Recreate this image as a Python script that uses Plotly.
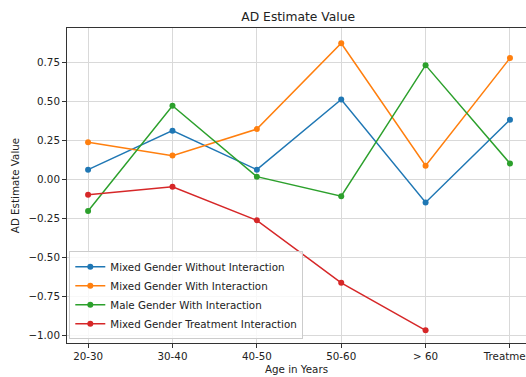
import plotly.graph_objects as go

categories = ["20-30", "30-40", "40-50", "50-60", "> 60", "Treatment"]
mixed_without = [0.06, 0.31, 0.06, 0.51, -0.15, 0.38]
mixed_with = [0.235, 0.15, 0.32, 0.87, 0.085, 0.775]
male_with = [-0.205, 0.47, 0.015, -0.11, 0.73, 0.10]
mixed_treat = [-0.10, -0.05, -0.265, -0.665, -0.97]

series = [
    ("Mixed Gender Without Interaction", mixed_without, "#1f77b4"),
    ("Mixed Gender With Interaction", mixed_with, "#ff7f0e"),
    ("Male Gender With Interaction", male_with, "#2ca02c"),
    ("Mixed Gender Treatment Interaction", mixed_treat, "#d62728"),
]

fig = go.Figure()
for name, vals, col in series:
    fig.add_trace(go.Scatter(
        x=categories[:len(vals)], y=vals, name=name, mode="lines+markers",
        line=dict(color=col, width=1.5), marker=dict(color=col, size=6),
    ))

font = "DejaVu Sans, sans-serif"
fig.update_layout(
    width=526, height=377,
    margin=dict(l=67, r=0, t=28, b=34, autoexpand=False),
    paper_bgcolor="white", plot_bgcolor="white",
    font=dict(family=font, size=10.3, color="#222"),
    title=dict(text="AD Estimate Value", x=0.567, xanchor="center", y=0.955, yanchor="middle",
               font=dict(size=12.3, color="#222")),
    showlegend=True,
    legend=dict(x=0.005, y=0.012, xanchor="left", yanchor="bottom",
                bgcolor="rgba(255,255,255,0.8)", bordercolor="#cccccc", borderwidth=1,
                font=dict(size=10.3), tracegroupgap=0),
)
fig.update_xaxes(
    type="category", categoryorder="array", categoryarray=categories,
    range=[-0.25, 5.19], automargin=False,
    showgrid=True, gridcolor="#d9d9d9", gridwidth=1,
    showline=True, linecolor="#333", linewidth=1, mirror=True,
    ticks="outside", ticklen=4, tickcolor="#333",
    title=dict(text="Age in Years", standoff=4, font=dict(size=10.3)),
    zeroline=False,
)
fig.update_yaxes(
    range=[-1.051, 0.968], automargin=False,
    tickvals=[-1.0, -0.75, -0.5, -0.25, 0.0, 0.25, 0.5, 0.75],
    ticktext=["\u22121.00", "\u22120.75", "\u22120.50", "\u22120.25", "0.00", "0.25", "0.50", "0.75"],
    showgrid=True, gridcolor="#d9d9d9", gridwidth=1,
    showline=True, linecolor="#333", linewidth=1, mirror=False,
    ticks="outside", ticklen=4, tickcolor="#333",
    title=dict(text="AD Estimate Value", standoff=6, font=dict(size=10.3)),
    zeroline=False,
)

fig.write_html("out.html")
